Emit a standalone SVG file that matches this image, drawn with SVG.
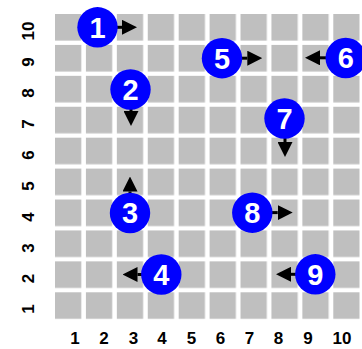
<svg xmlns="http://www.w3.org/2000/svg" width="362" height="349" viewBox="0 0 362 349">
<defs>
<style>
.cell{fill:#bfbfbf}
.ax{font-family:"Liberation Sans",Arial,sans-serif;font-weight:bold;font-size:17px;fill:#000;text-anchor:middle}
.dot{fill:#0000ff}
.num{font-family:"Liberation Sans",Arial,sans-serif;font-weight:bold;font-size:29px;fill:#fff;text-anchor:middle}
.arr{stroke:#000;stroke-width:3;fill:none;marker-end:url(#head)}
</style>
<marker id="head" markerUnits="userSpaceOnUse" markerWidth="15" markerHeight="15" refX="0" refY="7.5" orient="auto" viewBox="0 0 15 15">
<path d="M0,0 L15,7.5 L0,15 z" fill="#000"/>
</marker>
<pattern id="grid" patternUnits="userSpaceOnUse" x="55" y="14" width="30.92" height="30.92">
<rect class="cell" x="0" y="0" width="26.3" height="26.6"/>
</pattern>
</defs>
<rect width="362" height="349" fill="#fff"/>
<g id="grid-cells">
<rect x="55" y="14" width="305" height="305.5" fill="url(#grid)"/>
</g>
<g id="x-axis">
<text class="ax" x="75" y="344">1</text>
<text class="ax" x="104" y="344">2</text>
<text class="ax" x="133.5" y="344">3</text>
<text class="ax" x="162" y="344">4</text>
<text class="ax" x="191.5" y="344">5</text>
<text class="ax" x="220.5" y="344">6</text>
<text class="ax" x="249.5" y="344">7</text>
<text class="ax" x="278.5" y="344">8</text>
<text class="ax" x="308" y="344">9</text>
<text class="ax" x="342" y="344">10</text>
</g>
<g id="y-axis">
<text class="ax" transform="translate(33.5,31) rotate(-90)">10</text>
<text class="ax" transform="translate(33.5,62) rotate(-90)">9</text>
<text class="ax" transform="translate(33.5,93) rotate(-90)">8</text>
<text class="ax" transform="translate(33.5,124) rotate(-90)">7</text>
<text class="ax" transform="translate(33.5,155) rotate(-90)">6</text>
<text class="ax" transform="translate(33.5,186) rotate(-90)">5</text>
<text class="ax" transform="translate(33.5,217) rotate(-90)">4</text>
<text class="ax" transform="translate(33.5,248) rotate(-90)">3</text>
<text class="ax" transform="translate(33.5,278.5) rotate(-90)">2</text>
<text class="ax" transform="translate(33.5,309) rotate(-90)">1</text>
</g>
<g id="connectors">
<line class="arr" x1="110" y1="27.3" x2="122" y2="27.3"/>
<line class="arr" x1="131" y1="100" x2="131" y2="111"/>
<line class="arr" x1="130" y1="203" x2="130" y2="191.5"/>
<line class="arr" x1="150" y1="274.5" x2="137.5" y2="274.5"/>
<line class="arr" x1="235" y1="58.2" x2="247.3" y2="58.2"/>
<line class="arr" x1="335" y1="57.8" x2="320" y2="57.8"/>
<line class="arr" x1="285" y1="130" x2="285" y2="142"/>
<line class="arr" x1="265" y1="212.6" x2="277.7" y2="212.6"/>
<line class="arr" x1="305" y1="274.3" x2="291" y2="274.3"/>
</g>
<g id="node-1"><circle class="dot" cx="97.5" cy="27.3" r="20.2"/><text class="num" x="97.5" y="37.6">1</text></g>
<g id="node-2"><circle class="dot" cx="130.5" cy="89.5" r="20.2"/><text class="num" x="130.5" y="99.8">2</text></g>
<g id="node-3"><circle class="dot" cx="130" cy="213" r="20.2"/><text class="num" x="130" y="223.3">3</text></g>
<g id="node-4"><circle class="dot" cx="161.3" cy="274.5" r="20.2"/><text class="num" x="161.3" y="284.8">4</text></g>
<g id="node-5"><circle class="dot" cx="222" cy="58.2" r="20.2"/><text class="num" x="222" y="68.5">5</text></g>
<g id="node-6"><circle class="dot" cx="345.7" cy="58" r="20.2"/><text class="num" x="345.7" y="68.3">6</text></g>
<g id="node-7"><circle class="dot" cx="284.5" cy="118.5" r="20.2"/><text class="num" x="284.5" y="128.8">7</text></g>
<g id="node-8"><circle class="dot" cx="252.3" cy="212.7" r="20.2"/><text class="num" x="252.3" y="223">8</text></g>
<g id="node-9"><circle class="dot" cx="315.3" cy="274.3" r="20.2"/><text class="num" x="315.3" y="284.6">9</text></g>
</svg>
